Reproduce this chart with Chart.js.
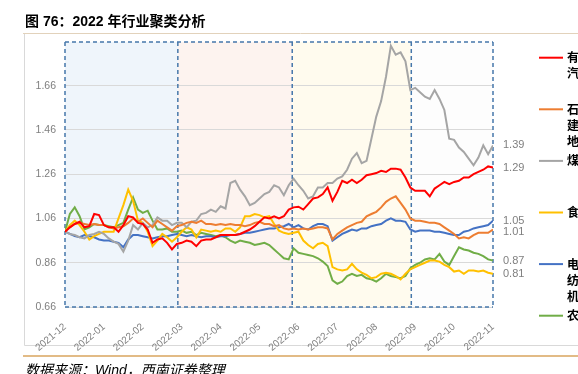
<!DOCTYPE html>
<html><head><meta charset="utf-8">
<script src="https://cdn.jsdelivr.net/npm/chart.js@4.4.0/dist/chart.umd.min.js"></script>
<style>html,body{margin:0;padding:0;background:#fff;overflow:hidden}</style>
</head><body>
<canvas id="c" width="578" height="374" style="display:block;width:578px;height:374px"></canvas>
<script>
// ---------- data ----------
const monthLabels = ['2021-12','2022-01','2022-02','2022-03','2022-04','2022-05','2022-06','2022-07','2022-08','2022-09','2022-10','2022-11'];
const step = 1/8; // one sample every 1/8 month
const yTicks = [0.66,0.86,1.06,1.26,1.46,1.66];
const regionBounds = [0, 2.9, 5.84, 8.9, 11];

const seriesRed = [1.00,1.02,1.035,1.045,1.02,1.025,1.08,1.075,1.03,1.02,1.02,1.00,1.03,1.07,1.065,1.04,1.035,1.01,0.95,0.965,0.97,0.95,0.92,0.945,
0.95,0.96,0.955,0.935,0.96,0.965,0.965,0.975,0.985,0.985,0.985,0.985,0.99,1.00,1.01,1.025,1.045,1.065,1.06,1.07,1.06,1.07,1.10,
1.11,1.113,1.10,1.125,1.15,1.155,1.17,1.20,1.14,1.18,1.23,1.22,1.235,1.22,1.235,1.255,1.26,1.265,1.275,1.27,1.285,1.285,1.28,1.245,1.20,
1.185,1.185,1.185,1.16,1.195,1.21,1.225,1.215,1.225,1.23,1.245,1.245,1.26,1.27,1.28,1.295,1.29];
const seriesOrange = [1.00,1.02,1.035,1.04,1.035,1.03,1.035,1.03,1.03,1.02,1.015,1.02,1.025,1.04,1.06,1.045,1.06,1.04,1.02,1.05,1.035,1.02,1.005,1.025,
1.03,1.04,1.045,1.04,1.05,1.035,1.035,1.03,1.035,1.03,1.035,1.03,1.03,1.025,1.03,1.04,1.045,1.035,1.035,1.025,1.03,1.015,1.01,
1.015,1.01,1.015,1.01,1.015,1.02,1.02,1.015,0.965,0.99,1.005,1.02,1.03,1.04,1.045,1.07,1.08,1.09,1.11,1.135,1.15,1.16,1.13,1.10,1.06,
1.05,1.05,1.045,1.04,1.04,1.035,1.02,1.005,0.99,0.97,0.975,0.97,0.985,0.995,0.995,0.995,1.01];
const seriesGray = [1.00,0.99,0.985,0.975,0.97,0.985,0.99,1.00,0.99,0.97,0.955,0.945,0.91,0.96,1.03,1.01,1.04,1.02,1.03,1.065,1.05,1.05,1.03,1.04,
1.04,1.02,1.045,1.05,1.08,1.085,1.10,1.09,1.115,1.105,1.22,1.23,1.19,1.16,1.12,1.13,1.15,1.17,1.18,1.21,1.20,1.165,1.21,
1.24,1.21,1.185,1.15,1.16,1.20,1.20,1.22,1.22,1.24,1.25,1.28,1.33,1.355,1.31,1.32,1.42,1.52,1.59,1.70,1.84,1.80,1.81,1.77,1.64,
1.65,1.63,1.61,1.60,1.64,1.60,1.55,1.42,1.415,1.38,1.36,1.33,1.30,1.335,1.39,1.35,1.39];
const seriesYellow = [1.00,1.03,1.05,1.03,1.00,0.965,0.98,0.99,1.00,1.00,1.00,1.06,1.12,1.19,1.14,1.05,1.04,1.00,0.935,0.96,0.99,0.975,0.955,0.975,
1.00,1.02,1.01,0.975,1.01,1.005,1.00,1.005,1.00,1.015,1.015,1.00,1.02,1.07,1.07,1.08,1.075,1.065,1.07,1.035,1.005,0.995,0.99,
0.995,1.00,0.96,0.94,0.925,0.945,0.95,0.935,0.84,0.83,0.825,0.83,0.855,0.83,0.815,0.805,0.79,0.795,0.81,0.815,0.81,0.80,0.785,0.81,0.83,
0.84,0.85,0.86,0.87,0.87,0.865,0.85,0.84,0.82,0.825,0.81,0.825,0.825,0.82,0.825,0.815,0.81];
const seriesBlue = [1.00,0.99,0.98,0.975,0.985,0.98,0.975,0.965,0.96,0.96,0.955,0.95,0.93,0.965,0.985,0.985,0.98,0.975,0.97,0.975,0.98,0.98,0.985,0.99,
0.985,0.98,0.985,0.98,0.975,0.98,0.98,0.975,0.98,0.98,0.985,0.985,0.99,0.995,0.995,1.00,1.005,1.01,1.015,1.015,1.02,1.025,1.035,
1.02,1.03,1.015,1.01,1.025,1.035,1.035,1.025,0.96,0.975,0.99,1.00,1.01,1.005,1.015,1.015,1.025,1.03,1.035,1.05,1.06,1.05,1.05,1.045,1.01,
1.00,1.005,1.005,1.005,1.00,1.00,0.995,0.99,0.985,0.985,1.00,1.005,1.015,1.02,1.025,1.03,1.05];
const seriesGreen = [1.00,1.08,1.11,1.07,1.01,1.02,1.035,1.03,1.03,1.025,1.02,1.03,1.04,1.10,1.155,1.10,1.085,1.095,1.05,1.01,1.01,1.015,1.00,1.00,
1.005,0.995,1.00,0.985,0.995,0.99,0.985,0.98,0.985,0.975,0.96,0.95,0.96,0.955,0.95,0.94,0.945,0.95,0.94,0.92,0.90,0.88,0.875,
0.925,0.905,0.90,0.895,0.89,0.88,0.865,0.845,0.78,0.765,0.775,0.80,0.81,0.80,0.805,0.79,0.785,0.775,0.79,0.81,0.80,0.795,0.79,0.80,0.835,
0.85,0.86,0.875,0.88,0.875,0.90,0.865,0.85,0.89,0.93,0.92,0.915,0.905,0.90,0.89,0.875,0.87];

// legend text as visible (cut at right edge in the original)
const legendTexts = [['有','汽'],['石','建','地'],['煤'],['食'],['电','纺','机'],['农']];
const seriesValues = [seriesRed, seriesOrange, seriesGray, seriesYellow, seriesBlue, seriesGreen];
const seriesColors = ['#ff0000','#ed7d31','#a5a5a5','#ffc000','#4472c4','#70ad47'];
const bandColors = ['#eff5fb','#fdf3ef','#fffbee','#fdfdfd'];

const datasets = seriesValues.map((vals, i) => ({
  label: legendTexts[i].join(''),
  data: vals.map((v, k) => ({x: k * step, y: v})),
  borderColor: seriesColors[i],
  borderWidth: 2,
  pointRadius: 0,
  tension: 0,
  fill: false
}));

const decor = {
  id: 'decor',
  beforeDraw(chart) {
    const {ctx, chartArea: a, scales: {x}} = chart;
    ctx.save();
    ctx.fillStyle = '#fff';
    ctx.fillRect(0, 0, chart.width, chart.height);
    // outer frame
    ctx.lineWidth = 1;
    ctx.strokeStyle = '#d9d9d9';
    ctx.beginPath(); ctx.moveTo(24.5, 34); ctx.lineTo(24.5, 345.5); ctx.lineTo(578, 345.5); ctx.stroke();
    ctx.strokeStyle = '#e2d2bb';
    ctx.beginPath(); ctx.moveTo(23, 33.5); ctx.lineTo(578, 33.5); ctx.stroke();
    ctx.strokeStyle = '#d8a45e';
    ctx.lineWidth = 1.5;
    ctx.beginPath(); ctx.moveTo(23, 356); ctx.lineTo(578, 356); ctx.stroke();
    // bands
    for (let i = 0; i < bandColors.length; i++) {
      const x0 = x.getPixelForValue(regionBounds[i]);
      const x1 = x.getPixelForValue(regionBounds[i + 1]);
      ctx.fillStyle = bandColors[i];
      ctx.fillRect(x0, a.top, x1 - x0, a.bottom - a.top);
    }
    ctx.restore();
  },
  beforeDatasetsDraw(chart) {
    const {ctx, chartArea: a, scales: {x}} = chart;
    ctx.save();
    ctx.strokeStyle = '#4677ab';
    ctx.lineWidth = 1.5;
    ctx.setLineDash([4, 3]);
    const xs = regionBounds.map(b => x.getPixelForValue(b));
    ctx.beginPath();
    ctx.moveTo(xs[0], a.top); ctx.lineTo(xs[xs.length - 1], a.top);
    ctx.moveTo(xs[0], a.bottom); ctx.lineTo(xs[xs.length - 1], a.bottom);
    ctx.stroke();
    xs.forEach(px => {
      ctx.beginPath(); ctx.moveTo(px, a.top); ctx.lineTo(px, a.bottom); ctx.stroke();
    });
    ctx.restore();
  },
  afterDraw(chart) {
    const {ctx, scales: {y}} = chart;
    ctx.save();
    // title
    ctx.fillStyle = '#000';
    ctx.textBaseline = 'alphabetic';
    ctx.font = 'bold 14px "Liberation Sans", "Noto Sans CJK SC", sans-serif';
    ctx.fillText('图 76：2022 年行业聚类分析', 25, 26);
    // source
    ctx.font = 'italic 14px "Liberation Sans", "Noto Sans CJK SC", sans-serif';
    ctx.fillStyle = '#000';
    ctx.fillText('数据来源：Wind，西南证券整理', 25, 375);
    // legend
    ctx.font = 'bold 12px "Noto Sans CJK SC", sans-serif';
    ctx.textBaseline = 'middle';
    for (let i = 0; i < legendTexts.length; i++) {
      const ly = 57.7 + i * 51.6;
      ctx.strokeStyle = seriesColors[i];
      ctx.lineWidth = 2;
      ctx.beginPath(); ctx.moveTo(539, ly); ctx.lineTo(563, ly); ctx.stroke();
      ctx.fillStyle = '#000';
      legendTexts[i].forEach((t, j) => ctx.fillText(t, 567, ly + j * 16.2));
    }
    // end labels
    const ends = seriesValues.map(v => ({val: v[v.length - 1], py: y.getPixelForValue(v[v.length - 1])}));
    ends.sort((p, q) => p.py - q.py);
    for (let i = 1; i < ends.length; i++) {
      if (ends[i].py - ends[i - 1].py < 11) ends[i].py = ends[i - 1].py + 11;
    }
    ctx.font = '11px "Liberation Sans", sans-serif';
    ctx.fillStyle = '#7f7f7f';
    ends.forEach(e => ctx.fillText(e.val.toFixed(2), 503, e.py));
    ctx.restore();
  }
};

new Chart(document.getElementById('c'), {
  type: 'line',
  data: {datasets},
  options: {
    responsive: false,
    animation: false,
    devicePixelRatio: 1,
    layout: {padding: {top: 42, right: 85, left: 0, bottom: 0}},
    plugins: {legend: {display: false}, tooltip: {enabled: false}},
    scales: {
      x: {
        type: 'linear', min: 0, max: 11,
        afterBuildTicks: s => { s.ticks = monthLabels.map((_, i) => ({value: i})); },
        afterFit: s => { s.height = 67; },
        grid: {display: false},
        border: {display: false},
        ticks: {
          autoSkip: false, minRotation: 40, maxRotation: 40, padding: 6,
          color: '#7f7f7f', font: {family: '"Liberation Sans", sans-serif', size: 10},
          callback: v => monthLabels[v]
        }
      },
      y: {
        min: 0.66, max: 1.857,
        afterBuildTicks: s => { s.ticks = yTicks.map(v => ({value: v})); },
        afterFit: s => { s.width = 65; },
        grid: {color: '#d9d9d9', lineWidth: 1, drawTicks: false},
        border: {display: false},
        ticks: {
          padding: 9, color: '#7f7f7f',
          font: {family: '"Liberation Sans", sans-serif', size: 10.5},
          callback: v => v.toFixed(2)
        }
      }
    }
  },
  plugins: [decor]
});
</script>
</body></html>
